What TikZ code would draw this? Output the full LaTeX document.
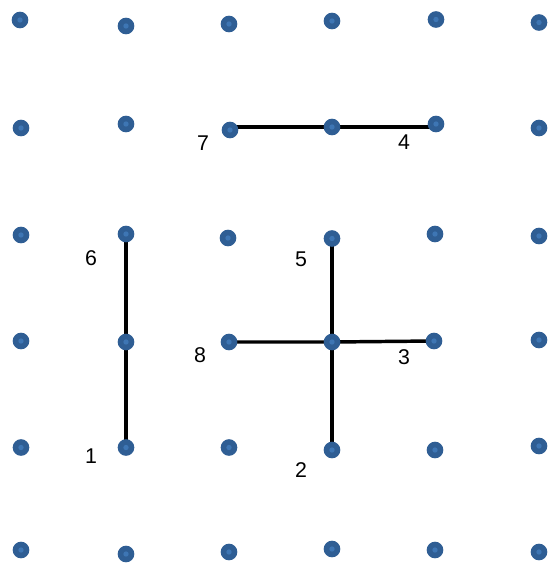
\documentclass[tikz,border=0pt]{standalone}
\usepackage{fontspec}
\setmainfont{Liberation Sans}
\usetikzlibrary{positioning,calc}
\definecolor{dotblue}{RGB}{47,94,148}
\definecolor{dotlight}{RGB}{62,118,180}

\begin{document}
\begin{tikzpicture}[x=0.75pt,y=-0.75pt,
  dot/.style={circle,fill=dotblue,inner sep=0pt,minimum size=12.5pt,
    path picture={\fill[dotlight] (path picture bounding box.center) circle (2pt);}},
  seg/.style={line width=2.6pt,black},
  lbl/.style={font=\fontsize{16}{16}\selectfont,inner sep=0pt}]
\useasboundingbox (0,0) rectangle (551,564);
% grid points (slightly jittered as in the sketch)
\foreach \r/\c/\x/\y in {
  1/1/20/20, 1/2/126/26, 1/3/229/24, 1/4/332/21, 1/5/436/19.5, 1/6/539/22.5,
  2/1/21/128, 2/2/126/124, 2/3/230/130, 2/4/332/127, 2/5/436/124, 2/6/539/128,
  3/1/21/235, 3/2/126/234, 3/3/228/238, 3/4/332/238.5, 3/5/435/234, 3/6/539/236,
  4/1/21/341, 4/2/126/342, 4/3/229/342, 4/4/332/342, 4/5/434/341, 4/6/539/340,
  5/1/21/447.5, 5/2/126/447.5, 5/3/229/447.5, 5/4/332/450, 5/5/435/450, 5/6/539/446,
  6/1/21/550, 6/2/126/554, 6/3/229/552, 6/4/332/549, 6/5/435/550, 6/6/539/552}
  \coordinate (g-\r-\c) at (\x,\y);
% segments
\draw[seg] (g-2-3 |- g-2-4) -- (g-2-5 |- g-2-4);
\draw[seg] (g-3-2) -- (g-4-2) -- (g-5-2);
\draw[seg] (g-3-4) -- (g-4-4) -- (g-5-4);
\draw[seg] (g-4-3) -- (g-4-4) -- (g-4-5);
% dots on top
\foreach \r in {1,...,6}
  \foreach \c in {1,...,6}
    \node[dot] (p-\r-\c) at (g-\r-\c) {};
% numbers
\node[lbl] (n1) at (91,456) {1};
\node[lbl] (n2) at (301,470) {2};
\node[lbl] (n3) at (404,357) {3};
\node[lbl] (n4) at (404,142) {4};
\node[lbl] (n5) at (301,259) {5};
\node[lbl] (n6) at (91,258) {6};
\node[lbl] (n7) at (203,143) {7};
\node[lbl] (n8) at (200,355) {8};
\end{tikzpicture}
\end{document}
